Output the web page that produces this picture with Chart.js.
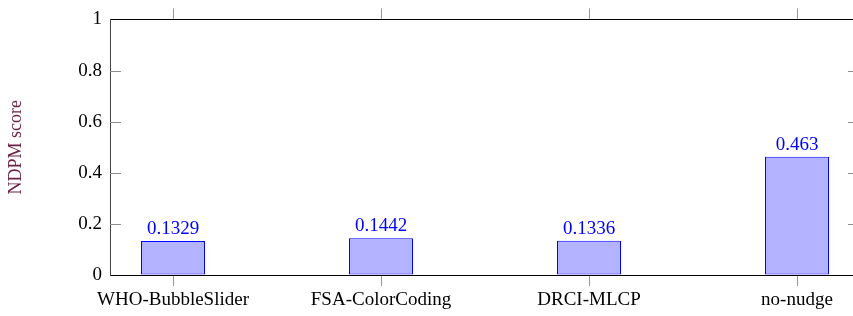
<!DOCTYPE html>
<html>
<head>
<meta charset="utf-8">
<script src="https://cdn.jsdelivr.net/npm/chart.js@4"></script>
<style>
  html, body { margin: 0; padding: 0; overflow: hidden; background: #fff; }
  #wrap { width: 866px; height: 316px; }
</style>
</head>
<body>
<div id="wrap"><canvas id="barChart" width="866" height="316"></canvas></div>
<script>
// data
const categories = ['WHO-BubbleSlider', 'FSA-ColorCoding', 'DRCI-MLCP', 'no-nudge'];
const scores = [0.1329, 0.1442, 0.1336, 0.463];
const yTicks = [0, 0.2, 0.4, 0.6, 0.8, 1];

const serif = 'Liberation Serif, Times New Roman, serif';
const xMin = -63 / 208, xMax = 686 / 208;   // enlarged x limits, like pgfplots

// ticks pointing inward on the y axis, right frame line, value labels over the bars
const extras = {
  id: 'extras',
  afterDatasetsDraw(chart) {
    const ctx = chart.ctx;
    const area = chart.chartArea;
    const y = chart.scales.y;
    ctx.save();
    ctx.lineWidth = 1;
    ctx.strokeStyle = '#8c8c8c';
    yTicks.forEach(v => {
      if (v === 0 || v === 1) return;
      const py = Math.round(y.getPixelForValue(v)) + 0.5;
      ctx.beginPath();
      ctx.moveTo(area.left, py);
      ctx.lineTo(area.left + 11, py);
      ctx.moveTo(area.right, py);
      ctx.lineTo(area.right - 11, py);
      ctx.stroke();
    });
    ctx.strokeStyle = '#333';
    ctx.beginPath();
    ctx.moveTo(Math.round(area.right) + 0.5, area.top);
    ctx.lineTo(Math.round(area.right) + 0.5, area.bottom);
    ctx.stroke();

    ctx.fillStyle = '#0000ff';
    ctx.font = '19px ' + serif;
    ctx.textAlign = 'center';
    ctx.textBaseline = 'alphabetic';
    chart.getDatasetMeta(0).data.forEach((bar, i) => {
      ctx.fillText(String(scores[i]), bar.x, bar.y - 7);
    });
    ctx.restore();
  }
};

const catTicks = s => { s.ticks = categories.map((c, i) => ({ value: i })); };

const ctxBar = document.getElementById('barChart').getContext('2d');
const barChart = new Chart(ctxBar, {
  type: 'bar',
  data: {
    datasets: [{
      label: 'NDPM score',
      data: scores.map((v, i) => ({ x: i, y: v })),
      backgroundColor: '#b3b3ff',
      borderColor: '#0000ff',
      borderWidth: 1,
      borderSkipped: false,
      inflateAmount: 0,
      categoryPercentage: 1,
      barPercentage: 64 / 208
    }]
  },
  options: {
    responsive: false,
    animation: false,
    layout: { padding: { left: 0, right: 7, top: 0, bottom: 0 } },
    plugins: {
      legend: { display: false },
      tooltip: { enabled: false }
    },
    scales: {
      x: {
        type: 'linear',
        position: 'bottom',
        offset: false,
        min: xMin,
        max: xMax,
        afterBuildTicks: catTicks,
        afterFit: s => { s.height = 41; },
        ticks: {
          callback: v => categories[v],
          color: '#000',
          font: { family: serif, size: 19 },
          padding: 3,
          maxRotation: 0,
          autoSkip: false
        },
        grid: { offset: false, drawOnChartArea: false, tickLength: 11, color: '#999' },
        border: { color: '#000' }
      },
      xTop: {
        type: 'linear',
        position: 'top',
        offset: false,
        min: xMin,
        max: xMax,
        afterBuildTicks: catTicks,
        afterFit: s => { s.height = 16; },
        ticks: { display: false },
        grid: { offset: false, drawOnChartArea: false, tickLength: 11, color: '#999' },
        border: { color: '#000' }
      },
      y: {
        min: 0,
        max: 1,
        afterBuildTicks: s => { s.ticks = yTicks.map(v => ({ value: v })); },
        afterFit: s => { s.width = 110; },
        ticks: {
          callback: v => String(v),
          color: '#000',
          font: { family: serif, size: 19 },
          padding: 8
        },
        grid: { drawOnChartArea: false, drawTicks: false },
        border: { color: '#444' },
        title: {
          display: true,
          text: 'NDPM score',
          color: '#6b2347',
          font: { family: serif, size: 18 },
          padding: { top: 5, bottom: 0 }
        }
      }
    }
  },
  plugins: [extras]
});
</script>
</body>
</html>
